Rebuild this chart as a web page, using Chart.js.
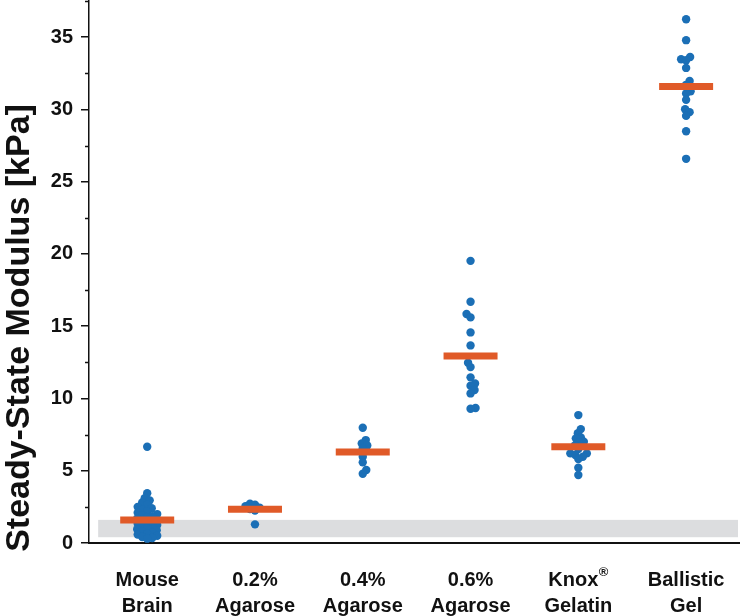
<!DOCTYPE html>
<html><head><meta charset="utf-8">
<script src="https://cdn.jsdelivr.net/npm/chart.js@4.4.1/dist/chart.umd.min.js"></script>
<style>html,body{margin:0;padding:0;background:#fff}#wrap{width:740px;height:616px}</style>
</head><body><div id="wrap"><canvas id="c" width="740" height="616"></canvas></div>
<script>
// ---- data ----
const categoryLines = [['Mouse','Brain'],['0.2%','Agarose'],['0.4%','Agarose'],['0.6%','Agarose'],['Knox\u2002','Gelatin'],['Ballistic','Gel']];
const yAxisTitle = 'Steady-State Modulus [kPa]';
const mouseBrain = [6.66,3.44,3.10,2.95,2.80,2.65,2.50,2.40,2.30,2.20,2.10,2.00,1.92,1.85,1.78,1.70,1.62,1.55,1.48,1.40,1.33,1.25,1.18,1.10,1.02,0.95,0.88,0.80,0.72,0.65,0.58,0.50,0.42,0.35,0.30];
const agarose02 = [2.72,2.65,2.55,2.45,2.35,2.25,1.29];
const agarose04 = [7.97,7.12,6.89,6.75,6.55,5.97,5.58,5.05,4.79];
const agarose06 = [19.52,16.69,15.84,15.61,14.57,13.67,12.47,12.17,11.46,11.04,10.88,10.58,10.35,9.34,9.29];
const knoxGelatin = [8.85,7.88,7.59,7.31,7.24,7.01,6.96,6.75,6.50,6.20,6.09,6.20,5.97,5.81,5.21,4.70];
const ballisticGel = [36.24,34.79,33.63,33.47,33.40,32.87,31.97,31.70,31.26,31.10,30.66,30.01,29.81,29.55,28.49,26.58];
const medians = [1.59,2.33,6.29,12.93,6.66,31.58];
const referenceBand = [0.4,1.6];
const groups = [mouseBrain,agarose02,agarose04,agarose06,knoxGelatin,ballisticGel];

// ---- styles ----
const FONT = "'Liberation Sans', Arial, Helvetica, sans-serif";
const BLUE = '#1b6fb6';
const ORANGE = '#e05a28';
const BAND = '#dcdddf';
const INK = '#111111';
const BAND_LEFT = -0.455;

Chart.defaults.font.family = FONT;

const bandPlugin = {
  id: 'band',
  beforeDatasetsDraw(chart) {
    const {ctx, chartArea} = chart; const xs = chart.scales.x, ys = chart.scales.y;
    const x0 = xs.getPixelForValue(BAND_LEFT);
    const yTop = ys.getPixelForValue(referenceBand[1]);
    const yBot = ys.getPixelForValue(referenceBand[0]);
    ctx.save(); ctx.fillStyle = BAND;
    ctx.fillRect(x0, yTop, chartArea.right - 2 - x0, yBot - yTop);
    ctx.restore();
  }
};

const decorPlugin = {
  id: 'decor',
  afterDraw(chart) {
    const {ctx, chartArea} = chart; const xs = chart.scales.x, ys = chart.scales.y;
    ctx.save();
    ctx.strokeStyle = INK; ctx.lineWidth = 1.5;
    for (let v = 2.5; v <= ys.max + 0.01; v += 5) {
      const y = Math.round(ys.getPixelForValue(v)) + 0.5;
      ctx.beginPath(); ctx.moveTo(chartArea.left - 4, y); ctx.lineTo(chartArea.left, y); ctx.stroke();
    }
    ctx.fillStyle = INK;
    ctx.font = 'bold 34px ' + FONT;
    ctx.textAlign = 'center'; ctx.textBaseline = 'middle';
    ctx.translate(20, (chartArea.top + chartArea.bottom) / 2 + 56);
    ctx.rotate(-Math.PI / 2);
    ctx.fillText(yAxisTitle, 0, 0);
    ctx.restore();
    ctx.save();
    const px = xs.getPixelForValue(4);
    ctx.font = 'bold 20px ' + FONT;
    const wFull = ctx.measureText(categoryLines[4][0]).width;
    const wK = ctx.measureText(categoryLines[4][0].trim()).width;
    const left = px - wFull / 2;
    ctx.font = 'bold 13px ' + FONT;
    ctx.fillStyle = INK; ctx.textBaseline = 'top'; ctx.textAlign = 'left';
    ctx.fillText('\u00AE', left + wK + 0.5, xs.top + 23);
    ctx.restore();
  }
};

const chart = new Chart(document.getElementById('c'), {
  type: 'scatter',
  data: {
    datasets: [
      { label: 'medians', data: medians.map((m, i) => ({x: i, y: m})),
        pointStyle: 'line', pointRadius: 27, pointHoverRadius: 27,
        borderColor: ORANGE, backgroundColor: ORANGE, borderWidth: 7, order: 0 },
      { label: 'samples', data: groups.flatMap((g, i) => g.map(v => ({x: i, y: v}))),
        pointRadius: 4.2, pointHoverRadius: 4.2, backgroundColor: BLUE, borderWidth: 0, order: 1 }
    ]
  },
  options: {
    responsive: false, animation: false, devicePixelRatio: 1,
    layout: { autoPadding: false, padding: { top: 1, right: 0, left: 0, bottom: 0 } },
    plugins: { legend: { display: false }, tooltip: { enabled: false } },
    scales: {
      x: {
        type: 'linear', min: -0.54, max: 5.5,
        afterBuildTicks: s => { s.ticks = categoryLines.map((_, i) => ({value: i})); },
        afterFit: s => { s.height = 73; s.paddingLeft = 0; s.paddingRight = 0; },
        ticks: { callback: v => categoryLines[v], autoSkip: false, maxRotation: 0, minRotation: 0,
                 color: INK, padding: 24, font: { size: 20, weight: 'bold', lineHeight: 1.3 } },
        grid: { display: false, drawTicks: false },
        border: { display: true, color: INK, width: 2 }
      },
      y: {
        type: 'linear', min: 0, max: 37.5,
        afterFit: s => { s.width = 89; s.paddingTop = 0; s.paddingBottom = 0; },
        ticks: { stepSize: 5, includeBounds: false, color: INK, padding: 8,
                 font: { size: 20, weight: 'bold' } },
        grid: { drawOnChartArea: false, drawTicks: true, tickLength: 8, color: INK, lineWidth: 1.5 },
        border: { display: true, color: INK, width: 1.5 }
      }
    }
  },
  plugins: [bandPlugin, decorPlugin]
});

// beeswarm placement computed from the chart's own scales
function swarm(ch) {
  const xs = ch.scales.x, ys = ch.scales.y;
  const pxPerCat = xs.getPixelForValue(1) - xs.getPixelForValue(0);
  const D = 5;
  const out = [];
  groups.forEach((vals, gi) => {
    const order = vals.map((v, k) => ({v, k})).sort((a, b) => a.v - b.v);
    const placed = []; const offs = new Array(vals.length).fill(0);
    order.forEach(({v, k}, n) => {
      const py = ys.getPixelForValue(v);
      let best = 0;
      outer: for (let s = 0; s < 80; s += 0.5) {
        const signs = s === 0 ? [1] : (n % 2 ? [1, -1] : [-1, 1]);
        for (const sg of signs) {
          const ox = s * sg;
          if (placed.every(p => (p.x - ox) ** 2 + (p.y - py) ** 2 >= D * D)) { best = ox; break outer; }
        }
      }
      placed.push({x: best, y: py}); offs[k] = best;
    });
    vals.forEach((v, k) => out.push({x: gi + offs[k] / pxPerCat, y: v}));
  });
  return out;
}
chart.data.datasets[1].data = swarm(chart);
chart.update('none');
</script></body></html>
